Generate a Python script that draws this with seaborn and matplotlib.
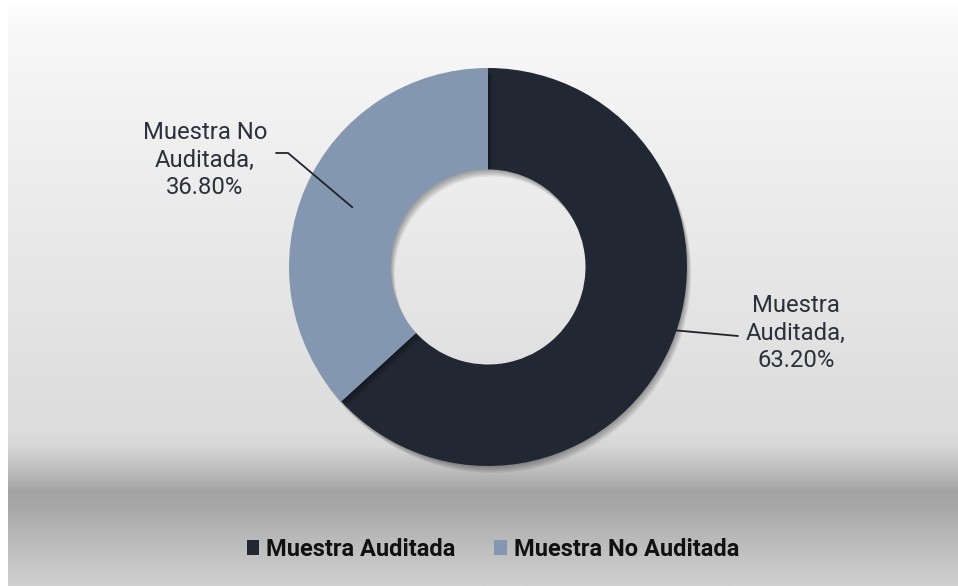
import numpy as np
import matplotlib
matplotlib.use("Agg")
import matplotlib.pyplot as plt
import matplotlib.patheffects as pe
from matplotlib.colors import LinearSegmentedColormap
from matplotlib.patches import Patch
import seaborn as sns

# ---- data ----
categories = ["Muestra Auditada", "Muestra No Auditada"]
values = [63.20, 36.80]
label_texts = ["Muestra\nAuditada,\n63.20%", "Muestra No\nAuditada,\n36.80%"]
colors = ["#222833", "#8497b0"]

sns.set_theme(style="white")
plt.rcParams["font.family"] = ["Roboto", "DejaVu Sans"]

W, H = 958, 586
fig = plt.figure(figsize=(W / 100, H / 100), dpi=100)

# background gradient
bg = fig.add_axes([0, 0, 1, 1])
bg.set_xlim(0, W)
bg.set_ylim(H, 0)
bg.axis("off")
stops = [(0.0, "#ffffff"), (0.05, "#f8f8f8"), (0.35, "#ebebeb"), (0.74, "#dcdcdc"),
         (0.765, "#d6d6d6"), (0.80, "#c0c0c0"), (0.84, "#a3a3a3"), (0.87, "#a8a8a8"),
         (0.93, "#bcbcbc"), (1.0, "#d0d0d0")]
cmap = LinearSegmentedColormap.from_list("bg", stops)
grad = np.linspace(0, 1, 600).reshape(-1, 1)
bg.imshow(grad, cmap=cmap, aspect="auto", extent=(8, W, H, 0), zorder=0)

# main donut axes in pixel coordinates
ax = fig.add_axes([0, 0, 1, 1], facecolor="none")
cx, cy, R = 488, H - 267, 199
width = 0.51
wedges, _ = ax.pie(values, colors=colors, startangle=90, counterclock=False,
                   center=(cx, cy), radius=R,
                   wedgeprops=dict(width=R * width, linewidth=0))
shadow = [pe.SimplePatchShadow(offset=(o * 0.6, -o), shadow_rgbFace="#000000", alpha=0.07)
          for o in (1, 2, 3, 4, 5)]
for w in wedges:
    w.set_path_effects(shadow + [pe.Normal()])
ax.set_xlim(0, W)
ax.set_ylim(0, H)
ax.set_aspect("auto")
ax.axis("off")

txt_color = "#2b303a"
fs = 17.2
# label: Muestra No Auditada (wedge 1)
w1 = wedges[1]
mid1 = np.deg2rad((w1.theta1 + w1.theta2) / 2)
rmid = R * (1 - width / 2)
p_in = (cx + rmid * np.cos(mid1), cy + rmid * np.sin(mid1))
ax.plot([p_in[0], 288, 276], [p_in[1], H - 153, H - 153], color="#1f232b", lw=1.3)
ax.text(205, H - 160, label_texts[1], ha="center", va="center", fontsize=fs,
        color=txt_color, linespacing=1.27)

# label: Muestra Auditada (wedge 0)
ang0 = np.deg2rad(-18.6)
p_out = (cx + R * np.cos(ang0), cy + R * np.sin(ang0))
ax.plot([p_out[0], 738], [p_out[1], H - 336], color="#1f232b", lw=1.3)
ax.text(796, H - 333, label_texts[0], ha="center", va="center", fontsize=fs,
        color=txt_color, linespacing=1.27)

handles = [Patch(facecolor=c, edgecolor="none") for c in colors]
leg = ax.legend(handles, categories, loc="center", bbox_to_anchor=(493 / W, 1 - 549 / H),
                bbox_transform=fig.transFigure, ncol=2, frameon=False,
                handlelength=0.52, handleheight=0.6, handletextpad=0.3, columnspacing=1.65,
                prop=dict(family="Roboto", weight="bold", size=17))
for t in leg.get_texts():
    t.set_color("#111111")

fig.savefig("out.png", dpi=100)
